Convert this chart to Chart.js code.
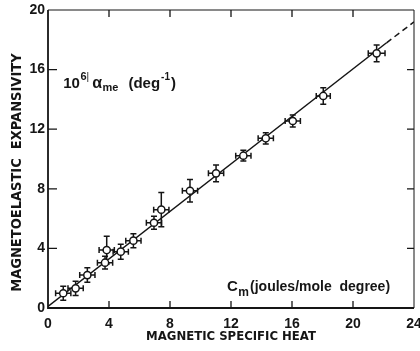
<!DOCTYPE html>
<html>
<head>
<meta charset="utf-8">
<script src="https://cdn.jsdelivr.net/npm/chart.js@4/dist/chart.umd.min.js"></script>
<style>
  html, body { margin: 0; padding: 0; background: #fff; }
  #wrap { width: 420px; height: 351px; }
</style>
</head>
<body>
<div id="wrap"><canvas id="chart"></canvas></div>
<script>
/* global Chart */

// magnetic specific heat C_m (joules/mole degree) vs magnetoelastic expansivity 10^6 alpha_me
const cm = [1.0, 1.81, 2.58, 3.74, 3.85, 4.77, 5.6, 6.95, 7.43, 9.31, 11.02, 12.81, 14.28, 16.05, 18.05, 21.55];
const alphaMe = [0.99, 1.32, 2.21, 3.04, 3.89, 3.78, 4.52, 5.72, 6.6, 7.87, 9.04, 10.22, 11.39, 12.55, 14.23, 17.09];
const alphaErr = [0.47, 0.48, 0.49, 0.43, 0.93, 0.5, 0.47, 0.43, 1.15, 0.76, 0.56, 0.36, 0.38, 0.41, 0.55, 0.56];
const cmErr = [0.5, 0.5, 0.5, 0.5, 0.5, 0.5, 0.5, 0.5, 0.5, 0.5, 0.5, 0.5, 0.5, 0.5, 0.46, 0.55];

// fitted line: solid part then dashed extrapolation
const fitSolidX = [0, 22.2];
const fitSolidY = [0.1, 17.8];
const fitDashX = [22.2, 24];
const fitDashY = [17.8, 19.2];

const xTicks = [0, 4, 8, 12, 16, 20, 24];
const yTicks = [0, 4, 8, 12, 16, 20];

const INK = '#151515';
const narrow = '"Liberation Sans Narrow", "DejaVu Sans Condensed", "Liberation Sans", sans-serif';
const sans = '"Liberation Sans", Arial, sans-serif';

const toXY = (xs, ys) => xs.map((x, i) => ({ x, y: ys[i] }));

// error bars, drawn just before the markers
const errorBars = {
  id: 'errorBars',
  beforeDatasetDraw(chart, args) {
    if (args.index !== 2) return;
    const { ctx, scales: { x, y } } = chart;
    ctx.save();
    ctx.strokeStyle = INK;
    ctx.lineWidth = 1.5;
    const cap = 3;
    cm.forEach((c, i) => {
      const px = x.getPixelForValue(c);
      const py = y.getPixelForValue(alphaMe[i]);
      const yt = y.getPixelForValue(alphaMe[i] + alphaErr[i]);
      const yb = y.getPixelForValue(alphaMe[i] - alphaErr[i]);
      const xl = x.getPixelForValue(c - cmErr[i]);
      const xr = x.getPixelForValue(c + cmErr[i]);
      ctx.beginPath();
      ctx.moveTo(px, yt); ctx.lineTo(px, yb);
      ctx.moveTo(px - cap, yt); ctx.lineTo(px + cap, yt);
      ctx.moveTo(px - cap, yb); ctx.lineTo(px + cap, yb);
      ctx.moveTo(xl, py); ctx.lineTo(xr, py);
      ctx.moveTo(xl, py - cap); ctx.lineTo(xl, py + cap);
      ctx.moveTo(xr, py - cap); ctx.lineTo(xr, py + cap);
      ctx.stroke();
    });
    ctx.restore();
  },
};

function drawParts(ctx, x, y, parts) {
  parts.forEach((p) => {
    ctx.font = p.font;
    ctx.fillText(p.t, x, y + (p.dy || 0));
    x += ctx.measureText(p.t).width + (p.gap || 0);
  });
}

// frame, inward ticks on all sides, in-plot labels
const frame = {
  id: 'frame',
  afterDraw(chart) {
    const { ctx, chartArea: a, scales: { x, y } } = chart;
    ctx.save();
    ctx.strokeStyle = INK;
    ctx.lineWidth = 1;
    ctx.beginPath();
    ctx.moveTo(a.left, a.top); ctx.lineTo(a.right, a.top); ctx.lineTo(a.right, a.bottom);
    ctx.stroke();
    ctx.lineWidth = 1.8;
    ctx.beginPath();
    ctx.moveTo(a.left, a.top); ctx.lineTo(a.left, a.bottom); ctx.lineTo(a.right, a.bottom);
    ctx.stroke();
    const len = 7;
    ctx.lineWidth = 1.3;
    ctx.beginPath();
    xTicks.slice(1, -1).forEach((v) => {
      const px = x.getPixelForValue(v);
      ctx.moveTo(px, a.bottom); ctx.lineTo(px, a.bottom - len);
      ctx.moveTo(px, a.top); ctx.lineTo(px, a.top + len);
    });
    yTicks.slice(1, -1).forEach((v) => {
      const py = y.getPixelForValue(v);
      ctx.moveTo(a.left, py); ctx.lineTo(a.left + len + 2, py);
      ctx.moveTo(a.right, py); ctx.lineTo(a.right - len, py);
    });
    ctx.stroke();

    ctx.fillStyle = INK;
    ctx.textBaseline = 'alphabetic';
    ctx.textAlign = 'left';
    drawParts(ctx, x.getPixelForValue(1), y.getPixelForValue(14.77), [
      { t: '10', font: `bold 15px ${sans}`, gap: 0.5 },
      { t: '6', font: `bold 11px ${sans}`, dy: -8 },
      { t: '|', font: `10px ${sans}`, dy: -8, gap: 3 },
      { t: 'α', font: `bold 16px ${sans}`, gap: 0.5 },
      { t: 'me', font: `bold 11px ${sans}`, dy: 3, gap: 10 },
      { t: '(deg', font: `bold 15px ${sans}`, gap: 1 },
      { t: '-1', font: `bold 10px ${sans}`, dy: -8, gap: 1 },
      { t: ')', font: `bold 15px ${sans}` },
    ]);
    drawParts(ctx, x.getPixelForValue(11.74), y.getPixelForValue(1.16), [
      { t: 'C', font: `bold 15px ${sans}`, gap: 0.5 },
      { t: 'm', font: `bold 12px ${sans}`, dy: 5, gap: 1 },
      { t: '(joules/mole  degree)', font: `bold 14px ${sans}` },
    ]);
    ctx.restore();
  },
};

const tickFont = { family: sans, size: 14, weight: 'bold' };

new Chart(document.getElementById('chart'), {
  data: {
    datasets: [
      {
        type: 'line',
        data: toXY(fitSolidX, fitSolidY),
        borderColor: INK,
        borderWidth: 1.5,
        pointRadius: 0,
        order: 3,
      },
      {
        type: 'line',
        data: toXY(fitDashX, fitDashY),
        borderColor: INK,
        borderWidth: 1.5,
        borderDash: [6, 4],
        pointRadius: 0,
        order: 2,
      },
      {
        type: 'scatter',
        data: toXY(cm, alphaMe),
        pointRadius: 3.6,
        pointBackgroundColor: '#fff',
        pointBorderColor: INK,
        pointBorderWidth: 1.5,
        order: 1,
      },
    ],
  },
  options: {
    responsive: true,
    maintainAspectRatio: false,
    animation: false,
    layout: { padding: { top: 10, right: 6, left: 0, bottom: 0 } },
    plugins: { legend: { display: false }, tooltip: { enabled: false } },
    scales: {
      x: {
        type: 'linear',
        min: 0,
        max: 24,
        afterBuildTicks: (s) => { s.ticks = xTicks.map((v) => ({ value: v })); },
        afterFit: (s) => { s.height = 43; s.paddingLeft = 0; s.paddingRight = 0; },
        grid: { display: false, drawTicks: false },
        border: { display: false },
        ticks: { color: INK, font: tickFont, padding: 8, maxRotation: 0 },
        title: {
          display: true,
          text: 'MAGNETIC SPECIFIC HEAT',
          color: INK,
          font: { family: narrow, size: 13, weight: '600' },
          padding: { top: 0, bottom: 7 },
        },
      },
      y: {
        type: 'linear',
        min: 0,
        max: 20,
        afterBuildTicks: (s) => { s.ticks = yTicks.map((v) => ({ value: v })); },
        afterFit: (s) => { s.width = 48; s.paddingTop = 0; s.paddingBottom = 0; },
        grid: { display: false, drawTicks: false },
        border: { display: false },
        ticks: { color: INK, font: tickFont, padding: 3 },
        title: {
          display: true,
          text: 'MAGNETOELASTIC  EXPANSIVITY      ',
          color: INK,
          font: { family: narrow, size: 14.5, weight: 'bold' },
          padding: { top: 9, bottom: 0 },
        },
      },
    },
  },
  plugins: [errorBars, frame],
});
</script>
</body>
</html>
